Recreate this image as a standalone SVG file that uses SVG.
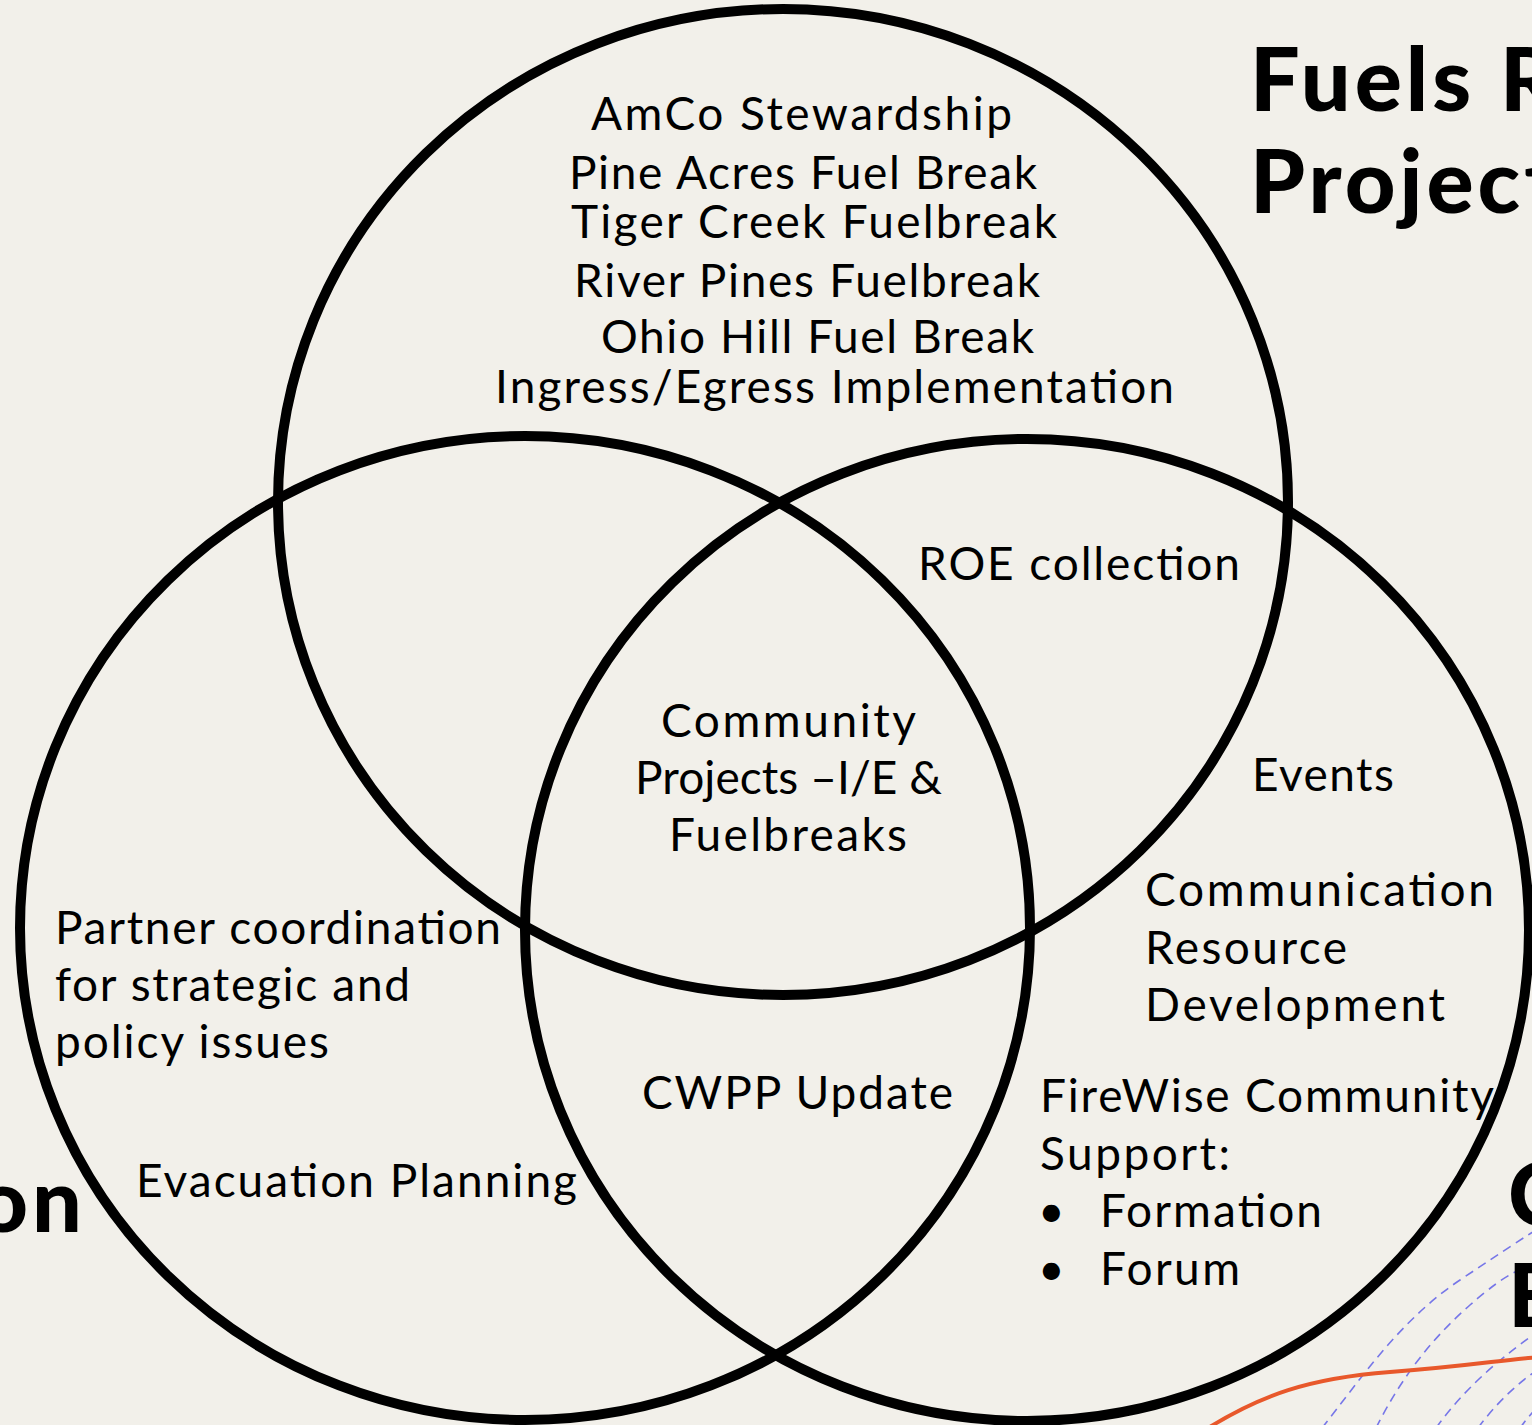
<svg xmlns="http://www.w3.org/2000/svg" width="1532" height="1425" viewBox="0 0 1532 1425">
  <style>
    .ring { fill: none; stroke: #000; stroke-width: 10; }
    .lbl { font-family: Lato, "Noto Sans", sans-serif; font-size: 46px; fill: #000; }
    .ttl { font-family: Lato, "Noto Sans", sans-serif; font-size: 88px; font-weight: 900; fill: #000; letter-spacing: 4px; }
    .dash { fill: none; stroke: #7676e8; stroke-width: 1.6; stroke-dasharray: 9 6; }
    .accent { fill: none; stroke: #e8582b; stroke-width: 4; }
  </style>
  <rect width="1532" height="1425" fill="#f2f0ea"/>

  <!-- decorative curves, lower right -->
  <g id="decor">
    <path class="dash" d="M1322 1428 C1360 1380 1400 1320 1460 1280 S1532 1232 1540 1228"/>
    <path class="dash" d="M1376 1428 C1400 1380 1430 1340 1470 1305 S1520 1270 1540 1262"/>
    <path class="dash" d="M1436 1428 C1460 1395 1490 1365 1540 1330"/>
    <path class="dash" d="M1478 1428 C1495 1405 1515 1385 1540 1368"/>
    <path class="dash" d="M1520 1428 C1526 1420 1532 1412 1540 1405"/>
    <path class="accent" d="M1205 1430 C1260 1395 1310 1378 1390 1372 S1500 1360 1540 1357"/>
  </g>

  <!-- three overlapping rings -->
  <g id="ring-top"><ellipse class="ring" cx="783" cy="502" rx="505" ry="493"/></g>
  <g id="ring-left"><ellipse class="ring" cx="525" cy="928" rx="505" ry="492"/></g>
  <g id="ring-right"><ellipse class="ring" cx="1027" cy="930" rx="502" ry="491"/></g>
  <g id="connectors"/>

  <!-- headings cut by the page edge -->
  <g id="title-fuels">
    <text class="ttl" x="1250" y="111">Fuels R</text>
    <text class="ttl" x="1250" y="213">Project</text>
  </g>
  <g id="title-left"><text class="ttl" x="86" y="1232" text-anchor="end">on</text></g>
  <g id="title-right">
    <text class="ttl" x="1508" y="1226">C</text>
    <text class="ttl" x="1508" y="1327">E</text>
  </g>

  <!-- top ring only -->
  <g id="fuels-projects" class="lbl" lengthAdjust="spacing">
    <text x="591" y="130" textLength="421">AmCo Stewardship</text>
    <text x="569" y="189" textLength="468">Pine Acres Fuel Break</text>
    <text x="571" y="238" textLength="486">Tiger Creek Fuelbreak</text>
    <text x="574" y="297" textLength="466">River Pines Fuelbreak</text>
    <text x="601" y="353" textLength="433">Ohio Hill Fuel Break</text>
    <text x="495" y="403" textLength="679">Ingress/Egress Implementation</text>
  </g>

  <!-- top and right overlap -->
  <g id="roe"><text class="lbl" x="918" y="580" textLength="322">ROE collection</text></g>

  <!-- centre overlap -->
  <g id="community-projects" class="lbl">
    <text x="661" y="737" textLength="255">Community</text>
    <text x="635" y="794" textLength="307">Projects –I/E &amp;</text>
    <text x="669" y="851" textLength="238">Fuelbreaks</text>
  </g>

  <!-- right ring only -->
  <g id="events"><text class="lbl" x="1252" y="791" textLength="142">Events</text></g>
  <g id="communication" class="lbl">
    <text x="1145" y="906" textLength="349">Communication</text>
    <text x="1145" y="964" textLength="202">Resource</text>
    <text x="1145" y="1021" textLength="300">Development</text>
  </g>
  <g id="firewise" class="lbl">
    <text x="1040" y="1112" textLength="454">FireWise Community</text>
    <text x="1040" y="1170" textLength="190">Support:</text>
    <text x="1038" y="1227">•</text>
    <text x="1100" y="1227" textLength="222">Formation</text>
    <text x="1038" y="1285">•</text>
    <text x="1100" y="1285" textLength="140">Forum</text>
  </g>

  <!-- left ring only -->
  <g id="partner" class="lbl">
    <text x="55" y="944" textLength="446">Partner coordination</text>
    <text x="55" y="1001" textLength="355">for strategic and</text>
    <text x="55" y="1058" textLength="274">policy issues</text>
  </g>
  <g id="evacuation"><text class="lbl" x="136" y="1197" textLength="441">Evacuation Planning</text></g>

  <!-- left and right overlap -->
  <g id="cwpp"><text class="lbl" x="642" y="1109" textLength="311">CWPP Update</text></g>
</svg>
